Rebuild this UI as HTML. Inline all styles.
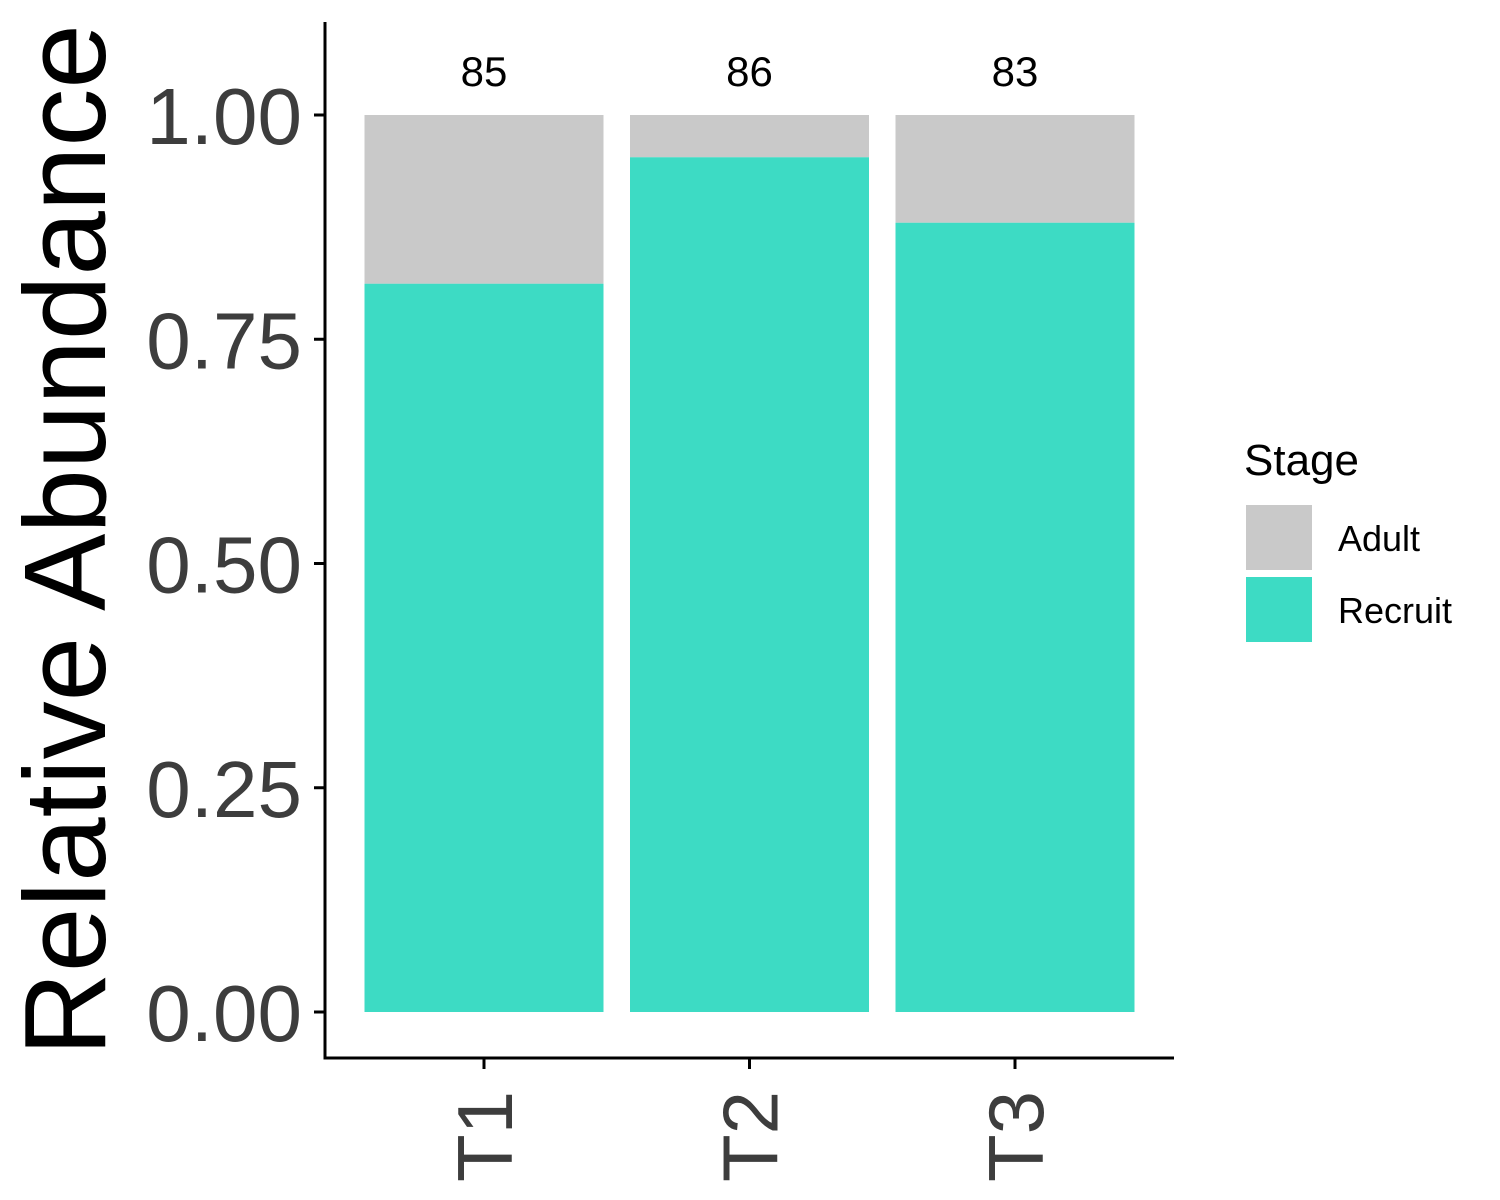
<!DOCTYPE html>
<html><head><meta charset="utf-8"><style>
html,body{margin:0;padding:0;background:#fff;}
svg{display:block;font-family:"Liberation Sans",Arial,sans-serif;}
</style></head><body>
<svg id="chart" width="1500" height="1200" viewBox="0 0 1500 1200">
<rect width="1500" height="1200" fill="#fff"/>
<g id="bars"></g>
<g id="axes"></g>
<text x="0" y="0" transform="translate(105,540) rotate(-90)" text-anchor="middle" font-size="116" fill="#000">Relative Abundance</text>
<g>
<text x="1244" y="475" font-size="44" fill="#000">Stage</text>
<rect x="1246" y="505" width="66" height="65" fill="#c9c9c9"/>
<text x="1338" y="551" font-size="36" fill="#000">Adult</text>
<rect x="1246" y="577" width="66" height="65" fill="#3ddbc4"/>
<text x="1338" y="623" font-size="36" fill="#000">Recruit</text>
</g>
</svg>
<script>
const categories = ["T1","T2","T3"];
const recruit = [0.812, 0.953, 0.880];
const adult = [0.188, 0.047, 0.120];
const counts = ["85","86","83"];
const yTicks = [0, 0.25, 0.5, 0.75, 1.0];
const yTickLabels = ["0.00","0.25","0.50","0.75","1.00"];

const NS = "http://www.w3.org/2000/svg";
const y = v => 1012 - v * 897;
const band = 265.5, barW = 239;
const xc = i => 484 + i * band;
const bars = document.getElementById("bars");
const axes = document.getElementById("axes");
function mk(tag, attrs, parent){const e=document.createElementNS(NS,tag);for(const k in attrs)e.setAttribute(k,attrs[k]);parent.appendChild(e);return e;}

categories.forEach((c,i)=>{
  const r = mk("rect",{x:xc(i)-barW/2,y:y(recruit[i]),width:barW,height:y(0)-y(recruit[i]),fill:"#3ddbc4"},bars);
  
  
  const top = recruit[i] + adult[i];
  const a = mk("rect",{x:xc(i)-barW/2,y:y(top),width:barW,height:y(recruit[i])-y(top),fill:"#c9c9c9"},bars);
  
  
  const t = mk("text",{x:xc(i),y:y(top)-29,"text-anchor":"middle","font-size":42,fill:"#000"},bars);
  t.textContent = counts[i];
  
  
  const tk = mk("line",{x1:xc(i),x2:xc(i),y1:1058,y2:1069,stroke:"#000","stroke-width":3},axes);
  
  
  const tl = mk("text",{x:0,y:0,transform:`translate(${xc(i)+28},1182) rotate(-90)`,"font-size":78,fill:"#3d3d3d"},axes);
  tl.textContent = c;
  
  
});
yTicks.forEach((v,i)=>{
  const tk = mk("line",{x1:314,x2:325,y1:y(v),y2:y(v),stroke:"#000","stroke-width":3},axes);
  
  
  const tl = mk("text",{x:302,y:y(v)+29,"text-anchor":"end","font-size":80,fill:"#3d3d3d"},axes);
  tl.textContent = yTickLabels[i];
  
  
});
const ya = mk("line",{x1:325,x2:325,y1:22,y2:1059.5,stroke:"#000","stroke-width":3},axes);


const xa = mk("line",{x1:323.5,x2:1174,y1:1058,y2:1058,stroke:"#000","stroke-width":3},axes);


</script>
</body></html>
